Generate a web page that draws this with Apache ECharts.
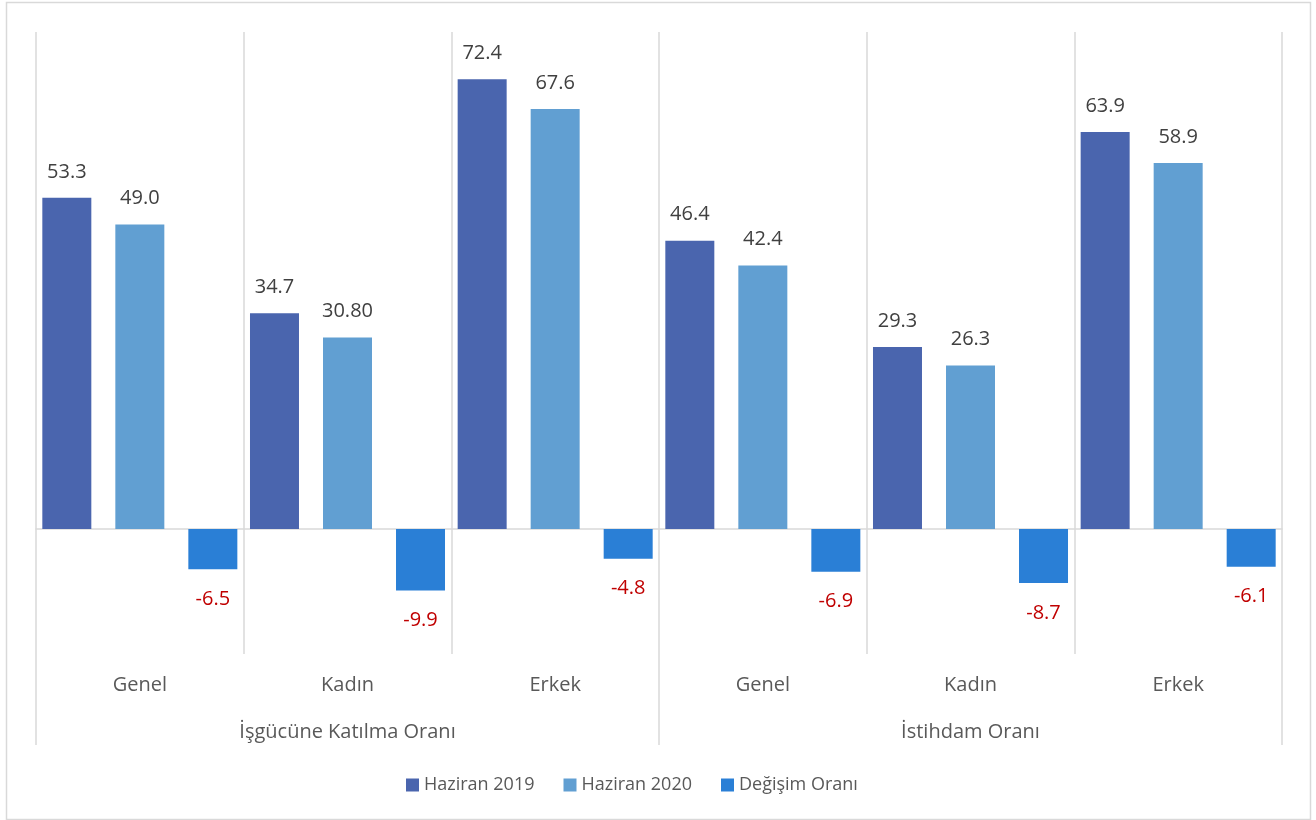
<!DOCTYPE html>
<html>
<head>
<meta charset="utf-8">
<script src="https://cdn.jsdelivr.net/npm/echarts@6/dist/echarts.min.js"></script>
<style>
html,body{margin:0;padding:0;background:#fff;}
#chart{width:1316px;height:820px;}
</style>
</head>
<body>
<div id="chart"></div>
<script>
const categories = ['Genel', 'Kadın', 'Erkek', 'Genel', 'Kadın', 'Erkek'];
const groups = ['İşgücüne Katılma Oranı', 'İstihdam Oranı'];
const seriesNames = ['Haziran 2019', 'Haziran 2020', 'Değişim Oranı'];
const haziran2019 = [53.3, 34.7, 72.4, 46.4, 29.3, 63.9];
const haziran2020 = [49.0, 30.8, 67.6, 42.4, 26.3, 58.9];
const degisim = [-6.5, -9.9, -4.8, -6.9, -8.7, -6.1];
const labels2019 = ['53.3', '34.7', '72.4', '46.4', '29.3', '63.9'];
const labels2020 = ['49.0', '30.80', '67.6', '42.4', '26.3', '58.9'];
const labelsDegisim = ['-6.5', '-9.9', '-4.8', '-6.9', '-8.7', '-6.1'];

const FONT = '"Open Sans", "DejaVu Sans", sans-serif';
const GRID_GRAY = '#d9d9d9';

function mk(vals, labs) {
  return vals.map((v, i) => ({ value: v, labelText: labs[i] }));
}

const chart = echarts.init(document.getElementById('chart'), null, { renderer: 'canvas' });
chart.setOption({
  animation: false,
  backgroundColor: '#fff',
  textStyle: { fontFamily: FONT },
  graphic: [{
    type: 'rect',
    shape: { x: 6.5, y: 2.5, width: 1304, height: 817 },
    style: { fill: 'none', stroke: GRID_GRAY, lineWidth: 1.5 },
    silent: true
  }],
  grid: { left: 36, right: 34, top: 32, bottom: 229, containLabel: false },
  legend: {
    data: seriesNames,
    left: 401,
    top: 771,
    itemWidth: 13,
    itemHeight: 13,
    itemGap: 29,
    icon: 'rect',
    textStyle: { fontSize: 18, color: '#595959', fontFamily: FONT }
  },
  xAxis: [
    {
      type: 'category',
      data: categories,
      gridIndex: 0,
      axisLine: { show: true, onZero: true, lineStyle: { color: GRID_GRAY, width: 1.5 } },
      axisTick: { show: false },
      axisLabel: { show: false },
      splitLine: { show: true, lineStyle: { color: GRID_GRAY, width: 1.5 } }
    },
    {
      type: 'category',
      data: categories,
      gridIndex: 0,
      position: 'bottom',
      axisLine: { show: false, onZero: false },
      axisTick: { show: true, length: 63, lineStyle: { color: GRID_GRAY, width: 1.5 } },
      axisLabel: { show: true, margin: 84, fontSize: 20, color: '#595959', fontFamily: FONT },
      splitLine: { show: false }
    },
    {
      type: 'category',
      data: groups,
      gridIndex: 0,
      position: 'bottom',
      axisLine: { show: false, onZero: false },
      axisTick: { show: true, length: 154, lineStyle: { color: GRID_GRAY, width: 1.5 } },
      axisLabel: { show: true, margin: 131, fontSize: 20, color: '#595959', fontFamily: FONT },
      splitLine: { show: false }
    }
  ],
  yAxis: {
    type: 'value',
    min: -10,
    max: 80,
    show: false,
    splitLine: { show: false }
  },
  series: [
    {
      name: seriesNames[0],
      type: 'bar',
      xAxisIndex: 0,
      data: mk(haziran2019, labels2019),
      barWidth: 49,
      barGap: '49%',
      itemStyle: { color: '#4a65ae' },
      label: {
        show: true, position: 'top', distance: 16,
        fontSize: 20, color: '#404040', fontFamily: FONT,
        formatter: p => p.data.labelText
      }
    },
    {
      name: seriesNames[1],
      type: 'bar',
      xAxisIndex: 0,
      data: mk(haziran2020, labels2020),
      barWidth: 49,
      barGap: '49%',
      itemStyle: { color: '#619fd2' },
      label: {
        show: true, position: 'top', distance: 16,
        fontSize: 20, color: '#404040', fontFamily: FONT,
        formatter: p => p.data.labelText
      }
    },
    {
      name: seriesNames[2],
      type: 'bar',
      xAxisIndex: 0,
      data: mk(degisim, labelsDegisim),
      barWidth: 49,
      barGap: '49%',
      itemStyle: { color: '#2a7fd6' },
      label: {
        show: true, position: 'bottom', distance: 20,
        fontSize: 20, color: '#c00000', fontFamily: FONT,
        formatter: p => p.data.labelText
      }
    }
  ]
});
</script>
</body>
</html>
